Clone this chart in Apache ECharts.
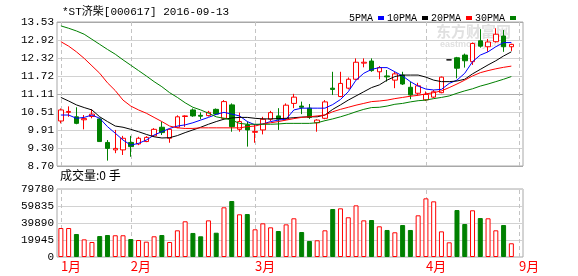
<!DOCTYPE html>
<html><head><meta charset="utf-8">
<script src="https://cdn.jsdelivr.net/npm/echarts@6/dist/echarts.min.js"></script>
<style>html,body{margin:0;padding:0;background:#fff}#c{width:578px;height:276px}</style>
</head><body><div id="c"></div>
<script>
// ---- data ----
const categories = [
 '2016-01-19','2016-01-20','2016-01-21','2016-01-22','2016-01-25','2016-01-26','2016-01-27','2016-01-28','2016-01-29',
 '2016-02-01','2016-02-02','2016-02-03','2016-02-04','2016-02-05','2016-02-15','2016-02-16','2016-02-17','2016-02-18','2016-02-19','2016-02-22','2016-02-23','2016-02-24','2016-02-25','2016-02-26','2016-02-29',
 '2016-03-01','2016-03-02','2016-03-03','2016-03-04','2016-03-07','2016-03-08','2016-03-09','2016-03-10','2016-03-11','2016-03-14','2016-03-15','2016-03-16','2016-03-17','2016-03-18','2016-03-21','2016-03-22','2016-03-23','2016-03-24','2016-03-25','2016-03-28','2016-03-29','2016-03-30',
 '2016-04-01','2016-04-05','2016-04-06',
 '2016-09-01','2016-09-02','2016-09-05','2016-09-06','2016-09-07','2016-09-08','2016-09-09','2016-09-12','2016-09-13',
 ''
];
const opens  = [10.21,10.50,10.35,10.25,10.36,10.28,9.49,9.24,9.24,9.49, 9.44,9.52,9.71,10.00,9.63,10.00,10.36,10.58,10.40,10.39, 10.60,10.30,10.75,9.93,10.08,9.83,9.91,10.27,10.38,10.27, 10.80,10.71,10.64,10.15,10.30,11.31,11.03,11.31,11.61,12.15, 12.22,11.86,11.72,11.58,11.75,11.34,11.14,10.92,11.01,11.16, 12.26,12.33,12.42,12.20,12.90,12.70,12.87,13.06,12.70];
const closes = [10.58,10.53,10.13,10.29,10.44,9.52,9.29,9.29,9.63,9.35, 9.63,9.66,9.93,9.82,9.93,10.35,10.38,10.38,10.37,10.50, 10.44,10.86,10.02,10.19,9.91,9.86,10.27,10.49,10.27,10.74, 11.01,10.67,10.33,10.24,10.85,11.27,11.47,11.61,12.18,12.18, 11.90,12.00,11.69,11.79,11.45,11.08,11.39,11.10,11.19,11.68, 12.26,11.98,12.23,12.81,12.72,12.86,13.12,12.70,12.78];
const lows   = [10.13,10.35,10.10,9.93,10.30,9.52,8.88,9.13,9.07,9.01, 9.40,9.50,9.68,9.74,9.48,9.97,10.01,10.35,10.27,10.36, 10.41,10.27,9.85,9.85,9.35,9.48,9.76,10.21,9.91,10.24, 10.64,10.44,10.28,9.85,10.27,11.08,11.01,11.27,11.58,12.01, 11.86,11.61,11.53,11.31,11.42,10.94,11.08,10.88,10.98,11.14, 12.26,11.64,12.00,12.09,12.67,12.53,12.84,12.53,12.56];
const highs  = [10.63,10.70,10.67,10.41,10.60,10.32,9.57,9.91,9.71,9.71, 9.68,9.70,9.97,10.19,9.95,10.40,10.40,10.63,10.50,10.55, 10.63,10.91,10.80,10.49,10.19,10.08,10.35,10.55,10.64,10.80, 11.12,10.86,10.78,10.27,10.91,11.86,11.86,11.67,12.31,12.31, 12.31,12.05,11.92,11.86,11.86,11.53,11.49,11.20,11.25,11.70, 12.26,12.36,12.47,12.84,13.29,12.96,13.32,13.26,12.80];
const ma5  = [10.41,10.41,10.30,10.33,10.41,10.30,10.02,9.80,9.57,9.40, 9.46,9.57,9.74,9.85,9.96,10.04,10.08,10.15,10.24,10.33, 10.43,10.50,10.44,10.38,10.19,10.08,10.11,10.19,10.24,10.27, 10.58,10.64,10.64,10.64,10.64,10.76,10.93,11.19,11.58,11.81, 11.94,12.00,12.00,11.86,11.72,11.53,11.38,11.28,11.25,11.27, 11.47,11.58,11.81,12.20,12.42,12.53,12.70,12.84,12.84];
const ma10 = [11.00,10.88,10.75,10.66,10.58,10.35,10.19,10.04,10.00,9.93, 9.85,9.76,9.68,9.64,9.65,9.72,9.82,9.91,10.00,10.10, 10.19,10.27,10.31,10.33,10.33,10.30,10.28,10.28,10.29,10.30, 10.32,10.34,10.35,10.35,10.41,10.60,10.75,10.91,11.05,11.19, 11.33,11.42,11.58,11.70,11.75,11.75,11.75,11.68,11.58,11.53, 11.53,11.55,11.61,11.79,11.94,12.09,12.23,12.39,12.53];
const ma20 = [12.87,12.72,12.53,12.31,12.06,11.81,11.49,11.23,10.91,10.71, 10.58,10.47,10.33,10.19,10.04,9.98,9.96,9.96,9.98,9.98, 9.98,9.98,9.98,9.98,10.02,10.04,10.11,10.15,10.19,10.24, 10.29,10.33,10.35,10.38,10.41,10.52,10.60,10.67,10.74,10.80, 10.86,10.88,10.91,10.96,11.00,11.04,11.07,11.12,11.16,11.22, 11.33,11.45,11.58,11.72,11.83,11.90,11.96,12.01,12.05];
const ma30 = [13.40,13.32,13.23,13.12,12.95,12.78,12.61,12.45,12.26,12.08, 11.90,11.72,11.53,11.36,11.16,11.00,10.82,10.67,10.58,10.47, 10.35,10.30,10.24,10.13,10.10,10.10,10.10,10.10,10.11,10.13, 10.13,10.13,10.13,10.15,10.22,10.28,10.35,10.43,10.52,10.60, 10.66,10.67,10.71,10.77,10.80,10.85,10.89,10.91,10.96,11.00, 11.05,11.14,11.22,11.29,11.38,11.45,11.53,11.61,11.70];
const volumes = [34000,34000,27000,20700,17600,24600,25800,25500,25500,21100, 19900,18000,24300,25800,17600,31300,41900,28200,24300,43000, 28500,58300,65700,50100,50400,32500,39500,34800,30500,38300, 45400,29300,18800,19600,31300,56300,57100,46600,60600,43000, 43400,36000,31700,29000,37500,31700,48900,68800,65300,30100, 17200,55100,38700,54800,45700,45400,31300,37500,16100];
const priceTicks = ['8.70','9.30','9.91','10.51','11.11','11.72','12.32','12.92','13.53'];
const volTicks = [0,19945,39890,59835,79780];
const monthIdx = [0,9,25,47,59];
const monthNames = ['1月','2月','3月','4月','9月'];
const maNames = ['5PMA','10PMA','20PMA','30PMA'];
const maColors = ['#0000ff','#000000','#ff0000','#008000'];

// ---- chart ----
const MONO = '"Liberation Mono","DejaVu Sans Mono","Noto Sans CJK SC",monospace';
const CJK = '"Noto Sans CJK SC",sans-serif';
const chart = echarts.init(document.getElementById('c'), null, {renderer:'canvas'});
const candleData = opens.map((o,i)=>[o, closes[i], lows[i], highs[i]]);
const volData = volumes.map((v,i)=>({
  value: v,
  itemStyle: closes[i] >= opens[i]
    ? {color:'#ffffff', borderColor:'#ff0000', borderWidth:1}
    : {color:'#008000', borderColor:'#008000', borderWidth:1}
}));
const dashLine = {
  silent:true, symbol:['none','none'], label:{show:false},
  lineStyle:{type:[4,3], color:'#c4c4c4', width:1},
  emphasis:{disabled:true},
  data: monthIdx.map(i=>({xAxis:i}))
};
const lightGrid = '#d2d2d2';
const option = {
  animation:false,
  backgroundColor:'#ffffff',
  grid:[
    {left:57, top:22, width:466, height:144, show:true, borderColor:'#a8a8a8', borderWidth:1},
    {left:57, top:189, width:466, height:68, show:true, borderColor:'#a8a8a8', borderWidth:1}
  ],
  legend:{
    data: maNames, right:57, top:8, icon:'rect', itemWidth:6, itemHeight:4, itemGap:3,
    align:'right', selectedMode:false,
    textStyle:{fontFamily:MONO, fontSize:10, color:'#000'}
  },
  graphic:[
    {type:'text', left:62, top:7, style:{text:'*ST济柴[000617] 2016-09-13', font:'11px '+MONO, fill:'#000'}},
    {type:'text', left:60, top:169, style:{text:'成交量:0 手', font:'12px '+CJK, fill:'#000'}},
    {type:'text', left:436, top:24, z:0, style:{text:'东方财富网', font:'bold 15px '+CJK, fill:'#e0e0e0'}},
    {type:'text', left:440, top:40, z:0, style:{text:'eastmoney.com', font:'bold 9px sans-serif', fill:'#e0e0e0'}}
  ],
  xAxis:[
    {type:'category', gridIndex:0, data:categories, boundaryGap:true,
     axisLine:{show:false}, axisTick:{show:false}, axisLabel:{show:false}, splitLine:{show:false}},
    {type:'category', gridIndex:1, data:categories, boundaryGap:true,
     axisLine:{show:false}, axisTick:{show:false}, splitLine:{show:false},
     axisLabel:{show:true, interval:(idx)=>monthIdx.indexOf(idx)>=0,
       formatter:(v,idx)=>monthNames[monthIdx.indexOf(idx)] || '',
       color:'#ff0000', fontSize:13, fontFamily:CJK, align:'left', margin:3}}
  ],
  yAxis:[
    {type:'value', gridIndex:0, min:8.70, max:13.53, show:false},
    {type:'value', gridIndex:0, min:0, max:8, interval:1, position:'left',
     axisLine:{show:false}, axisTick:{show:false},
     axisLabel:{formatter:(v)=>priceTicks[v], fontFamily:MONO, fontSize:11, color:'#000', margin:3},
     splitLine:{show:true, lineStyle:{width:1, color:['#a8a8a8',lightGrid,lightGrid,lightGrid,'#acacac',lightGrid,lightGrid,lightGrid,'#a8a8a8']}}},
    {type:'value', gridIndex:1, min:volTicks[0], max:volTicks[4], interval:volTicks[1], position:'left',
     axisLine:{show:false}, axisTick:{show:false},
     axisLabel:{formatter:(v)=>String(v), fontFamily:MONO, fontSize:11, color:'#000', margin:3},
     splitLine:{show:true, lineStyle:{width:1, color:lightGrid}}}
  ],
  series:[
    {type:'candlestick', name:'K', xAxisIndex:0, yAxisIndex:0, data:candleData, barWidth:5, z:3,
     itemStyle:{color:'#ffffff', color0:'#008000', borderColor:'#ff0000', borderColor0:'#008000', borderColorDoji:'#000000', borderWidth:1},
     markLine: Object.assign({}, dashLine, {z:1})},
    ...[ma5, ma10, ma20, ma30].map((d,k)=>({
      type:'line', name:maNames[k], xAxisIndex:0, yAxisIndex:0, data:d, symbol:'none', showSymbol:false,
      color:maColors[k], lineStyle:{width:1, color:maColors[k]}, itemStyle:{color:maColors[k]}, z:4, silent:true
    })),
    {type:'bar', name:'VOL', xAxisIndex:1, yAxisIndex:2, data:volData, barWidth:5, z:3,
     markLine: Object.assign({}, dashLine, {z:1})}
  ]
};
chart.setOption(option);
</script>
</body></html>
